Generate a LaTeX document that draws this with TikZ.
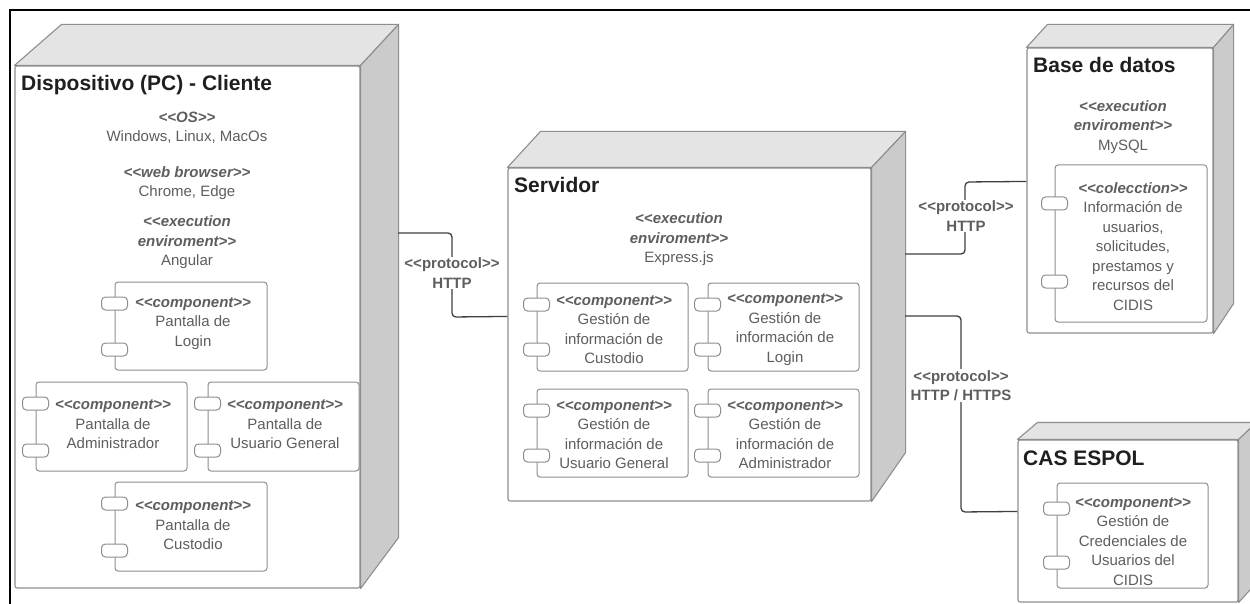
\documentclass[tikz,border=0pt]{standalone}
\usepackage{fontspec}
\setmainfont{Liberation Sans}
\usetikzlibrary{calc}

\definecolor{edgegray}{HTML}{8E8E8E}
\definecolor{topgray}{HTML}{E4E4E4}
\definecolor{sidegray}{HTML}{CBCBCB}
\definecolor{textgray}{HTML}{5E5E5E}
\definecolor{linegray}{HTML}{3F3F3F}

% UML stereotype, e.g. <<component>>
\newcommand\stereo[1]{\textbf{\textit{<{}<#1>{}>}}}

% top and side faces of a 3D deployment node
% #1 node, #2 left shift, #3 right shift, #4 top rise, #5 bottom rise
\newcommand\depthfaces[5]{%
  \draw[topface] (#1.north west) -- ++(#2,-#4) -- ($(#1.north east)+(#3,-#4)$) -- (#1.north east) -- cycle;
  \draw[sideface] (#1.north east) -- ++(#3,-#4) -- ($(#1.south east)+(#3,-#5)$) -- (#1.south east) -- cycle;
}

% component box with two ports on its left edge
% #1 name, #2 cx, #3 cy, #4 width, #5 height, #6 top port offset, #7 bottom port offset
\newcommand\compo[7]{%
  \node[compbox, minimum width=#4pt, minimum height=#5pt] (#1) at (#2,#3) {};
  \node[port] (#1p1) at ($(#1.north west)+(0,#6)$) {};
  \node[port] (#1p2) at ($(#1.south west)+(0,-#7)$) {};
}

\tikzset{
  front/.style={draw=edgegray, fill=white, line width=1.1pt, rounded corners=2pt, inner sep=0pt},
  topface/.style={draw=edgegray, fill=topgray, line width=1.1pt, line join=round},
  sideface/.style={draw=edgegray, fill=sidegray, line width=1.1pt, line join=round},
  nodetitle/.style={anchor=west, inner sep=0pt, font=\bfseries\fontsize{21}{25}\selectfont, text=black!88},
  info/.style={align=center, inner sep=0pt, text=textgray, font=\fontsize{15}{19.5}\selectfont},
  compbox/.style={draw=edgegray, fill=white, line width=1pt, rounded corners=3pt, inner sep=0pt},
  port/.style={draw=edgegray, fill=white, line width=1pt, rounded corners=4pt,
               minimum width=26pt, minimum height=13pt, inner sep=0pt},
  link/.style={draw=linegray, line width=1.3pt, rounded corners=4pt},
  proto/.style={align=center, fill=white, inner sep=1pt, text=textgray,
                font=\bfseries\fontsize{15}{19.5}\selectfont},
}

\begin{document}
\begin{tikzpicture}[x=1pt,y=-1pt]
\useasboundingbox (0,0) rectangle (1250,604);
\clip (0,0) rectangle (1250,604);
\fill[white] (0,0) rectangle (1250,604);

% outer frame
\draw[line width=2.2pt] (10,604) -- (10,10) -- (1250,10);

% ---------- client device ----------
\node[front, minimum width=345pt, minimum height=522pt] (cli) at (187.5,327) {};
\depthfaces{cli}{47}{38}{41}{51}
\node[nodetitle] (clititle) at (21,85) {Dispositivo (PC) - Cliente};
\node[info] (clios) at (187,127.5) {\stereo{OS}\\Windows, Linux, MacOs};
\node[info] (cliweb) at (187,183) {\stereo{web browser}\\Chrome, Edge};
\node[info] (cliexec) at (187,242.5) {\textbf{\textit{<{}<execution}}\\\textbf{\textit{enviroment>{}>}}\\Angular};

\compo{login}{191}{326}{152}{88}{22}{21}
\node[info] (loginT) at (193,323.5) {\stereo{component}\\Pantalla de\\Login};
\compo{admin}{111.5}{426.5}{151}{89}{22}{21}
\node[info] (adminT) at (113,424.5) {\stereo{component}\\Pantalla de\\Administrador};
\compo{usr}{283.5}{426.5}{151}{89}{22}{21}
\node[info] (usrT) at (285,424.5) {\stereo{component}\\Pantalla de\\Usuario General};
\compo{cust}{191}{526.5}{152}{89}{22}{21}
\node[info] (custT) at (193,525.5) {\stereo{component}\\Pantalla de\\Custodio};

% ---------- server ----------
\node[front, minimum width=363pt, minimum height=333pt] (srv) at (689.5,334.5) {};
\depthfaces{srv}{33}{34}{36}{49}
\node[nodetitle] (srvtitle) at (514,185) {Servidor};
\node[info] (srvexec) at (679,239.5) {\textbf{\textit{<{}<execution}}\\\textbf{\textit{enviroment>{}>}}\\Express.js};

\compo{gcus}{612.5}{327}{151}{88}{22}{22}
\node[info] (gcusT) at (614,329.5) {\stereo{component}\\Gestión de\\información de\\Custodio};
\compo{glog}{783.5}{327}{151}{88}{22}{22}
\node[info] (glogT) at (785,329.5) {\stereo{component}\\Gestión de\\información de\\Login};
\compo{gusr}{612.5}{433}{151}{88}{22}{22}
\node[info] (gusrT) at (614,434.5) {\stereo{component}\\Gestión de\\información de\\Usuario General};
\compo{gadm}{783.5}{433}{151}{88}{22}{22}
\node[info] (gadmT) at (785,434.5) {\stereo{component}\\Gestión de\\información de\\Administrador};

% ---------- database ----------
\node[front, minimum width=186pt, minimum height=285pt] (db) at (1120,190.5) {};
\depthfaces{db}{21}{20}{23}{30}
\node[nodetitle] (dbtitle) at (1033,65) {Base de datos};
\node[info] (dbexec) at (1123,127) {\textbf{\textit{<{}<execution}}\\\textbf{\textit{enviroment>{}>}}\\MySQL};
\compo{coll}{1131}{243.5}{152}{157}{39}{41}
\node[info] (collT) at (1133,246.5) {\stereo{colecction}\\Información de\\usuarios,\\solicitudes,\\prestamos y\\recursos del\\CIDIS};

% ---------- CAS ----------
\node[front, minimum width=220pt, minimum height=162pt] (cas) at (1128,521) {};
\depthfaces{cas}{20}{18}{17}{20}
\node[nodetitle] (castitle) at (1023,458) {CAS ESPOL};
\compo{cred}{1132.5}{535.5}{151}{105}{26}{26}
\node[info] (credT) at (1133,541.5) {\stereo{component}\\Gestión de\\Credenciales de\\Usuarios del\\CIDIS};

% ---------- connectors ----------
\coordinate (cliport) at (398,233);
\coordinate (srvportA) at (905,254);
\coordinate (srvportB) at (905,316);

\draw[link] (cliport) -| (452,317) -- ($(srv.north west)+(0,149)$);
\node[proto] (p1) at (452,273) {<{}<protocol>{}>\\HTTP};

\draw[link] (srvportA) -| (965,182) -- ($(db.north west)+(0,134)$);
\node[proto] (p2) at (966,216) {<{}<protocol>{}>\\HTTP};

\draw[link] (srvportB) -| (961,512) -- ($(cas.north west)+(0,72)$);
\node[proto] (p3) at (961,385.5) {<{}<protocol>{}>\\HTTP / HTTPS};
\end{tikzpicture}
\end{document}
